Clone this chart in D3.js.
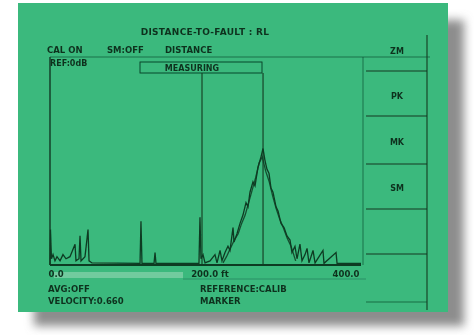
<!DOCTYPE html>
<html>
<head>
<meta charset="utf-8">
<script src="https://cdn.jsdelivr.net/npm/d3@7"></script>
<style>
  body { margin: 0; background: #fff; }
  svg text { font-family: "DejaVu Sans", sans-serif; font-weight: bold; fill: #10301f; }
</style>
</head>
<body>
<svg id="chart" width="474" height="335"></svg>
<script>
// trace, distance in ft / level
var trace_dist = [0, 0.6, 1.9, 3.9, 6.4, 9.0, 12.9, 16.7, 20.6, 25.7, 32.2, 33.4, 37.3, 38.6, 39.9, 45.0, 48.9, 50.2, 54.0,
  115.8, 117.0, 118.3, 133.8, 135.1, 136.3, 191.6, 192.9, 194.2, 196.8, 199.4, 205.8, 212.2, 214.8, 218.7, 221.2,
  225.1, 228.9, 231.5, 235.4, 236.7, 240.5, 244.4, 248.2, 252.1, 254.7, 257.2, 261.1, 263.7, 267.5, 271.4, 274.0,
  276.6, 279.1, 281.7, 284.2, 286.8, 290.7, 293.3, 297.1, 301.0, 304.8, 308.7, 311.2, 315.1, 317.7, 321.5, 324.1,
  328.0, 330.6, 333.1, 338.3, 340.9, 351.1, 352.4, 367.9, 369.2, 400];
var trace_level = [0, 17, 3, 5, 2, 4, 2, 5, 3, 4, 10, 2, 3, 14, 2, 4, 17, 2, 1,
  0.8, 21, 0.8, 0.8, 6, 0.8, 0.8, 23, 3, 5, 1, 2, 5, 1, 7, 2,
  6, 9, 7, 18, 11, 15, 20, 24, 30, 28, 35, 40, 38, 47, 52, 56,
  50, 46, 44, 37, 35, 28, 26, 20, 18, 14, 12, 6, 9, 3, 10, 2,
  5, 8, 1, 7, 1, 7, 0.8, 6, 0.8, 0.8];

// second sweep over the peak (gives the doubled edge)
var trace2_dist = [222.5, 227.0, 232.0, 237.0, 242.0, 246.5, 251.0, 255.5, 260.0, 264.5, 269.0, 273.0, 277.5,
  282.0, 286.5, 291.0, 295.5, 300.0, 305.0, 310.0, 316.0];
var trace2_level = [1, 4, 8, 12, 15, 20, 24, 30, 36, 42, 49, 52, 45, 40, 33, 27, 22, 18, 13, 9, 2];

var markers = [195.5, 274];
var x_ticks = [0, 200, 400];
var x_tick_labels = ["0.0", "200.0 ft", "400.0"];

var header_labels = ["CAL ON", "SM:OFF", "DISTANCE"];
var footer_left = ["AVG:OFF", "VELOCITY:0.660"];
var footer_right = ["REFERENCE:CALIB", "MARKER"];
var key_labels = ["ZM", "PK", "MK", "SM"];

var green = "#3bb97d", ink = "#0e3a22";

var svg = d3.select("#chart");

var defs = svg.append("defs");
defs.append("filter").attr("id", "blur")
  .attr("x", "-10%").attr("y", "-10%").attr("width", "130%").attr("height", "130%")
  .append("feGaussianBlur").attr("stdDeviation", 5);
defs.append("filter").attr("id", "soft")
  .append("feGaussianBlur").attr("stdDeviation", 0.45);

// drop shadow + screen
svg.append("rect")
  .attr("x", 34).attr("y", 20).attr("width", 430).attr("height", 306)
  .attr("fill", "#8d8d8d").attr("filter", "url(#blur)");

svg.append("rect")
  .attr("x", 18).attr("y", 3).attr("width", 430).attr("height", 309)
  .attr("fill", green);

var g = svg.append("g").attr("filter", "url(#soft)");

var left = 50, right = 361, top_y = 57, base_y = 265;

var x = d3.scaleLinear().domain([0, 400]).range([left, right]);
var y = d3.scaleLinear().domain([0, 100]).range([base_y, top_y]);

// title and header row
g.append("text")
  .attr("x", 205).attr("y", 35)
  .attr("text-anchor", "middle")
  .style("font-size", "9px")
  .style("letter-spacing", "0.3px")
  .text("DISTANCE-TO-FAULT : RL");

var header_x = [47, 107, 165];
g.selectAll(".hdr")
  .data(header_labels)
  .enter().append("text")
  .attr("class", "hdr")
  .attr("x", function(d, i){ return header_x[i]; })
  .attr("y", 53)
  .style("font-size", "8.5px")
  .text(function(d){ return d; });

// plot frame
g.append("line")
  .attr("x1", left).attr("x2", 430).attr("y1", top_y).attr("y2", top_y)
  .attr("stroke", ink).attr("stroke-width", 0.8).attr("opacity", 0.7);
g.append("line")
  .attr("x1", left).attr("x2", left).attr("y1", top_y).attr("y2", base_y)
  .attr("stroke", ink).attr("stroke-width", 1.4);
g.append("line")
  .attr("x1", right + 2).attr("x2", right + 2).attr("y1", top_y).attr("y2", base_y)
  .attr("stroke", ink).attr("stroke-width", 0.8).attr("opacity", 0.7);

g.append("text")
  .attr("x", 50).attr("y", 66)
  .style("font-size", "8px")
  .text("REF:0dB");

// measuring box
g.append("rect")
  .attr("x", 140).attr("y", 62).attr("width", 122).attr("height", 11)
  .attr("fill", "none").attr("stroke", ink).attr("stroke-width", 0.9);
g.append("text")
  .attr("x", 192).attr("y", 71)
  .attr("text-anchor", "middle")
  .style("font-size", "8px")
  .text("MEASURING");

// marker lines
g.selectAll(".marker")
  .data(markers)
  .enter().append("line")
  .attr("class", "marker")
  .attr("x1", function(d){ return x(d); })
  .attr("x2", function(d){ return x(d); })
  .attr("y1", 73).attr("y2", base_y)
  .attr("stroke", ink).attr("stroke-width", 1.1);

// traces
var line = d3.line()
  .x(function(d){ return x(d[0]); })
  .y(function(d){ return y(d[1]); });

g.append("path")
  .datum(d3.zip(trace2_dist, trace2_level))
  .attr("d", line)
  .attr("fill", "none").attr("stroke", ink).attr("stroke-width", 1.3).attr("opacity", 0.85);

g.append("path")
  .datum(d3.zip(trace_dist, trace_level))
  .attr("d", line)
  .attr("fill", "none").attr("stroke", ink).attr("stroke-width", 1.3);

// baseline
g.append("line")
  .attr("x1", left).attr("x2", right).attr("y1", base_y).attr("y2", base_y)
  .attr("stroke", ink).attr("stroke-width", 2);

// scroll band under the axis
g.append("rect")
  .attr("x", 54).attr("y", 272).attr("width", 129).attr("height", 6)
  .attr("fill", "#7fd0a6").attr("opacity", 0.8);
g.append("line")
  .attr("x1", 183).attr("x2", 366).attr("y1", 279).attr("y2", 279)
  .attr("stroke", ink).attr("stroke-width", 0.6).attr("opacity", 0.5);

// axis labels
var axis = d3.axisBottom(x)
  .tickValues(x_ticks)
  .tickSize(0)
  .tickPadding(0)
  .tickFormat(function(d, i){ return x_tick_labels[i]; });

var gx = g.append("g")
  .attr("transform", "translate(0," + (base_y + 6) + ")")
  .call(axis);
gx.select(".domain").remove();
gx.selectAll("text")
  .style("font-size", "8.5px")
  .style("font-family", "DejaVu Sans, sans-serif")
  .attr("fill", ink)
  .attr("text-anchor", function(d, i){ return i == 0 ? "start" : i == 2 ? "end" : "middle"; })
  .attr("dx", function(d, i){ return i == 0 ? -2 : i == 2 ? -2 : 4; });

// footer text
g.selectAll(".foot-l")
  .data(footer_left)
  .enter().append("text")
  .attr("class", "foot-l")
  .attr("x", 48)
  .attr("y", function(d, i){ return 292 + i * 12; })
  .style("font-size", "8.5px")
  .text(function(d){ return d; });

g.selectAll(".foot-r")
  .data(footer_right)
  .enter().append("text")
  .attr("class", "foot-r")
  .attr("x", 200)
  .attr("y", function(d, i){ return 292 + i * 12; })
  .style("font-size", "8.5px")
  .text(function(d){ return d; });

// soft keys on the right
g.append("line")
  .attr("x1", 427).attr("x2", 427).attr("y1", 35).attr("y2", 310)
  .attr("stroke", ink).attr("stroke-width", 1.1);

var key_lines = [71, 116, 164, 209, 254, 302];
g.selectAll(".key-line")
  .data(key_lines)
  .enter().append("line")
  .attr("class", "key-line")
  .attr("x1", 366).attr("x2", 427)
  .attr("y1", function(d){ return d; })
  .attr("y2", function(d){ return d; })
  .attr("stroke", ink).attr("stroke-width", function(d, i){ return i == 5 ? 0.6 : 1.1; });

var key_y = [54, 99, 145, 191];
g.selectAll(".key")
  .data(key_labels)
  .enter().append("text")
  .attr("class", "key")
  .attr("x", 397)
  .attr("y", function(d, i){ return key_y[i]; })
  .attr("text-anchor", "middle")
  .style("font-size", "8px")
  .text(function(d){ return d; });
</script>
</body>
</html>
